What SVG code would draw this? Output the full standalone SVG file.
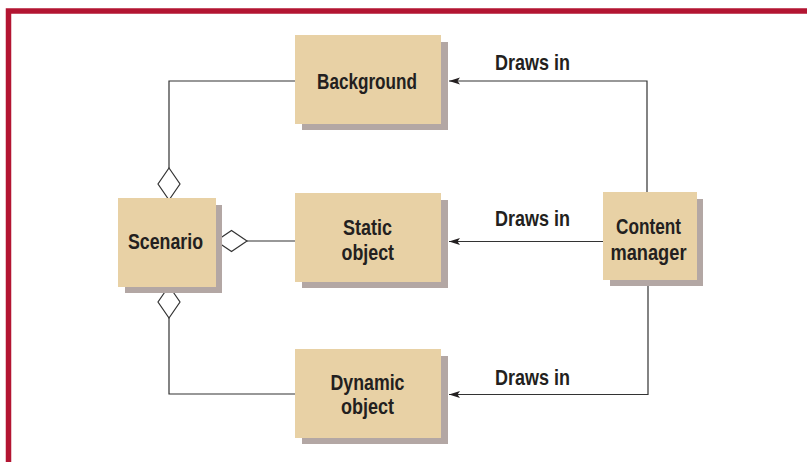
<svg xmlns="http://www.w3.org/2000/svg" width="807" height="462" viewBox="0 0 807 462">
<defs>
<style>
.box{fill:#E8D1A5}
.sh{fill:#B3A7A4}
.t{font-family:"Liberation Sans",Arial,sans-serif;font-weight:bold;font-size:22px;fill:#231F20;text-anchor:start}
.ln{fill:none;stroke:#333;stroke-width:1.2}
.dia{fill:#fff;stroke:#333;stroke-width:1.2}
</style>
<marker id="ah" markerWidth="12" markerHeight="8" refX="11" refY="4" orient="auto" markerUnits="userSpaceOnUse">
<path d="M0,0.5 L11,4 L0,7.5 L2.5,4 Z" fill="#231F20"/>
</marker>
</defs>
<rect width="807" height="462" fill="#fff"/>
<path d="M8.5,462 V11 H807" fill="none" stroke="#B31532" stroke-width="5.5"/>
<g id="connectors">
<path class="ln" d="M295,81 H169 V168"/>
<path class="ln" d="M247,241 H295"/>
<path class="ln" d="M169,318 V394 H295"/>
<polygon class="dia" points="169,168 180,184 169,200 158,184"/>
<polygon class="dia" points="216,241 231.5,230.5 247,241 231.5,251.5"/>
<polygon class="dia" points="169,286 180,302 169,318 158,302"/>
<path class="ln" d="M647,192 V81 H449" marker-end="url(#ah)"/>
<path class="ln" d="M603,241.5 H449" marker-end="url(#ah)"/>
<path class="ln" d="M648,286 V394.5 H449" marker-end="url(#ah)"/>
<text class="t" x="495" y="70" textLength="75" lengthAdjust="spacingAndGlyphs">Draws in</text>
<text class="t" x="495" y="226" textLength="75" lengthAdjust="spacingAndGlyphs">Draws in</text>
<text class="t" x="495" y="385" textLength="75" lengthAdjust="spacingAndGlyphs">Draws in</text>
</g>
<g id="background">
<rect class="sh" x="302" y="42" width="146" height="88"/>
<rect class="box" x="295" y="35" width="146" height="89"/>
<text class="t" x="317" y="88.5" textLength="100" lengthAdjust="spacingAndGlyphs">Background</text>
</g>
<g id="static-object">
<rect class="sh" x="302" y="200" width="146" height="88"/>
<rect class="box" x="295" y="193" width="146" height="89"/>
<text class="t" x="343" y="234.5" textLength="49" lengthAdjust="spacingAndGlyphs">Static</text>
<text class="t" x="341.5" y="260" textLength="52.5" lengthAdjust="spacingAndGlyphs">object</text>
</g>
<g id="dynamic-object">
<rect class="sh" x="302" y="356" width="146" height="88"/>
<rect class="box" x="295" y="349" width="146" height="89"/>
<text class="t" x="330.5" y="389.5" textLength="74" lengthAdjust="spacingAndGlyphs">Dynamic</text>
<text class="t" x="341" y="414" textLength="53" lengthAdjust="spacingAndGlyphs">object</text>
</g>
<g id="scenario">
<rect class="sh" x="125" y="205" width="97" height="88"/>
<rect class="box" x="118" y="198" width="98" height="89"/>
<text class="t" x="128" y="248.5" textLength="75" lengthAdjust="spacingAndGlyphs">Scenario</text>
</g>
<g id="content-manager">
<rect class="sh" x="610" y="199" width="93" height="87"/>
<rect class="box" x="603" y="192" width="94" height="88"/>
<text class="t" x="616" y="234" textLength="65" lengthAdjust="spacingAndGlyphs">Content</text>
<text class="t" x="610.5" y="260" textLength="76" lengthAdjust="spacingAndGlyphs">manager</text>
</g>
</svg>
